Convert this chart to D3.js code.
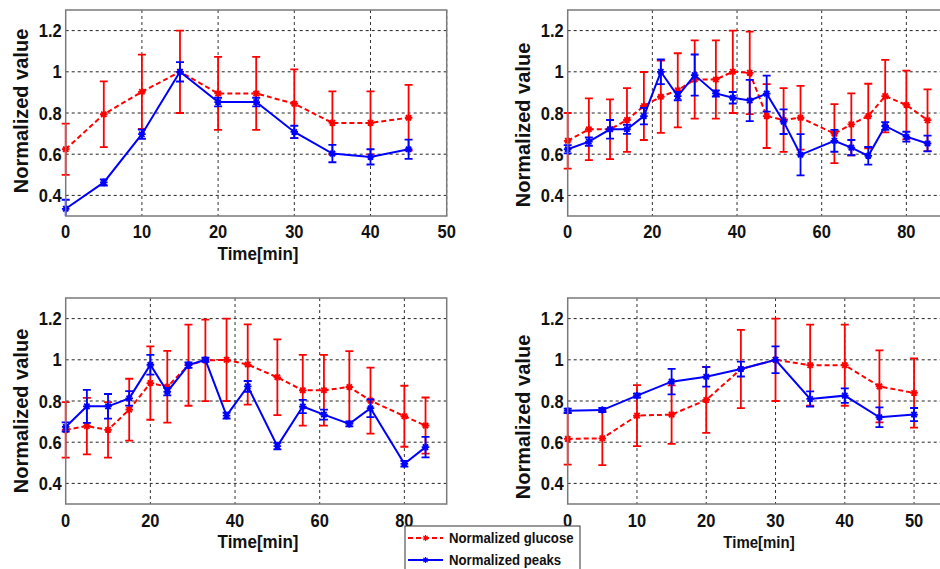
<!DOCTYPE html>
<html>
<head>
<meta charset="utf-8">
<title>Normalized glucose vs peaks</title>
<script src="https://d3js.org/d3.v7.min.js"></script>
<style>
  body { margin: 0; background: #fff; }
  svg text { font-family: "Liberation Sans", Arial, sans-serif; font-weight: bold; fill: #111; }
</style>
</head>
<body>
<script>
// ---- data ----
var time1 = [0, 5, 10, 15, 20, 25, 30, 35, 40, 45];
var glucose1 = [0.624, 0.794, 0.903, 1.0, 0.895, 0.895, 0.845, 0.752, 0.752, 0.777];
var glucoseErr1 = [0.124, 0.16, 0.18, 0.2, 0.177, 0.177, 0.167, 0.153, 0.153, 0.16];
var peaks1 = [0.335, 0.463, 0.697, 1.0, 0.853, 0.853, 0.708, 0.603, 0.587, 0.624];
var peaksErr1 = [0.044, 0.015, 0.022, 0.047, 0.021, 0.021, 0.03, 0.042, 0.037, 0.047];

var time2 = [0, 5, 10, 14, 18, 22, 26, 30, 35, 39, 43, 47, 51, 55, 63, 67, 71, 75, 80, 85];
var glucose2 = [0.665, 0.721, 0.721, 0.766, 0.834, 0.879, 0.91, 0.963, 0.963, 1.0, 0.995, 0.785, 0.766, 0.777, 0.7, 0.745, 0.785, 0.882, 0.839, 0.765];
var glucoseErr2 = [0.135, 0.15, 0.145, 0.155, 0.165, 0.175, 0.18, 0.19, 0.19, 0.2, 0.2, 0.155, 0.155, 0.155, 0.143, 0.15, 0.157, 0.176, 0.167, 0.15];
var peaks2 = [0.624, 0.661, 0.721, 0.721, 0.785, 1.0, 0.882, 0.984, 0.895, 0.874, 0.861, 0.894, 0.758, 0.597, 0.665, 0.632, 0.592, 0.737, 0.685, 0.652];
var peaksErr2 = [0.02, 0.02, 0.045, 0.022, 0.04, 0.06, 0.02, 0.1, 0.015, 0.028, 0.1, 0.087, 0.06, 0.1, 0.053, 0.037, 0.043, 0.019, 0.024, 0.038];

var time3 = [0, 5, 10, 15, 20, 24, 29, 33, 38, 43, 50, 56, 61, 67, 72, 80, 85];
var glucose3 = [0.66, 0.678, 0.66, 0.758, 0.887, 0.869, 0.974, 0.997, 1.0, 0.977, 0.915, 0.852, 0.852, 0.868, 0.802, 0.726, 0.681];
var glucoseErr3 = [0.135, 0.137, 0.135, 0.15, 0.178, 0.174, 0.197, 0.198, 0.2, 0.195, 0.184, 0.172, 0.172, 0.174, 0.16, 0.148, 0.136];
var peaks3 = [0.674, 0.774, 0.774, 0.813, 0.976, 0.845, 0.974, 1.0, 0.729, 0.871, 0.581, 0.773, 0.734, 0.689, 0.765, 0.495, 0.576];
var peaksErr3 = [0.022, 0.08, 0.06, 0.035, 0.048, 0.018, 0.013, 0.01, 0.015, 0.026, 0.016, 0.032, 0.024, 0.012, 0.043, 0.014, 0.05];

var time4 = [0, 5, 10, 15, 20, 25, 30, 35, 40, 45, 50];
var glucose4 = [0.616, 0.619, 0.729, 0.734, 0.805, 0.955, 1.0, 0.974, 0.974, 0.871, 0.839];
var glucoseErr4 = [0.125, 0.13, 0.148, 0.142, 0.16, 0.19, 0.2, 0.197, 0.197, 0.175, 0.168];
var peaks4 = [0.753, 0.756, 0.826, 0.894, 0.918, 0.955, 1.0, 0.81, 0.826, 0.721, 0.734];
var peaksErr4 = [0.01, 0.01, 0.01, 0.062, 0.048, 0.036, 0.065, 0.037, 0.035, 0.048, 0.032];

var yTicks = [0.4, 0.6, 0.8, 1, 1.2];
var xTicks1 = [0, 10, 20, 30, 40, 50];
var xTicks2 = [0, 20, 40, 60, 80];
var xTicks4 = [0, 10, 20, 30, 40, 50];
var seriesNames = ["Normalized glucose", "Normalized peaks"];

// ---- layout ----
var W = 940, H = 569;
var plotW = 381, plotH = 206;
var stretch = 1.12;   // text in the figure is a bit taller than wide

var panels = [
  { t: time1, g: glucose1, ge: glucoseErr1, p: peaks1, pe: peaksErr1, xmax: 50, xt: xTicks1,
    left: 65.7, top: 10, xlab: "Time[min]", xlabSize: 17, ylabShift: -2 },
  { t: time2, g: glucose2, ge: glucoseErr2, p: peaks2, pe: peaksErr2, xmax: 90, xt: xTicks2,
    left: 567.7, top: 10, xlab: null, ylabShift: 12 },
  { t: time3, g: glucose3, ge: glucoseErr3, p: peaks3, pe: peaksErr3, xmax: 90, xt: xTicks2,
    left: 65.7, top: 298, xlab: "Time[min]", xlabSize: 17, ylabShift: 10 },
  { t: time4, g: glucose4, ge: glucoseErr4, p: peaks4, pe: peaksErr4, xmax: 55, xt: xTicks4,
    left: 567.7, top: 298, xlab: "Time[min]", xlabSize: 15, ylabShift: 16 }
];

var svg = d3.select("body").append("svg")
  .attr("width", W)
  .attr("height", H);

function stext(g, x, y, str, size, anchor) {
  return g.append("text")
    .attr("transform", "translate(" + x + "," + y + ") scale(1," + stretch + ")")
    .attr("text-anchor", anchor)
    .style("font-size", size + "px")
    .text(str);
}

function starPath(r) {
  var a = r * 0.7;
  return "M" + (-r) + ",0L" + r + ",0M0," + (-r) + "L0," + r +
    "M" + (-a) + "," + (-a) + "L" + a + "," + a + "M" + (-a) + "," + a + "L" + a + "," + (-a);
}

panels.forEach(function(pn, idx) {
  var g = svg.append("g").attr("transform", "translate(" + pn.left + "," + pn.top + ")");
  var x = d3.scaleLinear().domain([0, pn.xmax]).range([0, plotW]);
  var y = d3.scaleLinear().domain([0.3, 1.3]).range([plotH, 0]);

  g.append("rect").attr("width", plotW).attr("height", plotH).attr("fill", "#fff");

  // grid
  g.selectAll(".hg").data(yTicks).enter().append("line")
    .attr("x1", 0).attr("x2", plotW)
    .attr("y1", function(d) { return y(d); }).attr("y2", function(d) { return y(d); })
    .attr("stroke", "#222").attr("stroke-width", 1).attr("stroke-dasharray", "3,3");
  g.selectAll(".vg").data(pn.xt.filter(function(d) { return d > 0; })).enter().append("line")
    .attr("y1", 0).attr("y2", plotH)
    .attr("x1", function(d) { return x(d); }).attr("x2", function(d) { return x(d); })
    .attr("stroke", "#333").attr("stroke-width", 1).attr("stroke-dasharray", "3,3");

  var clipId = "clip" + idx;
  g.append("clipPath").attr("id", clipId).append("rect")
    .attr("x", -5).attr("y", 0).attr("width", plotW + 10).attr("height", plotH);
  var body = g.append("g").attr("clip-path", "url(#" + clipId + ")");

  function drawSeries(vals, errs, color, dash) {
    var pts = pn.t.map(function(t, i) { return { t: t, v: vals[i], e: errs[i] }; });
    var eb = body.append("g");
    pts.forEach(function(d) {
      var cx = x(d.t), y1 = y(d.v + d.e), y2 = y(d.v - d.e);
      eb.append("line").attr("x1", cx).attr("x2", cx).attr("y1", y1).attr("y2", y2)
        .attr("stroke", color).attr("stroke-width", 1.8);
      [y1, y2].forEach(function(yy) {
        eb.append("line").attr("x1", cx - 4).attr("x2", cx + 4).attr("y1", yy).attr("y2", yy)
          .attr("stroke", color).attr("stroke-width", 1.8);
      });
    });
    body.append("path").datum(pts)
      .attr("fill", "none").attr("stroke", color).attr("stroke-width", 2)
      .attr("stroke-dasharray", dash)
      .attr("d", d3.line().x(function(d) { return x(d.t); }).y(function(d) { return y(d.v); }));
    body.selectAll(null).data(pts).enter().append("path")
      .attr("transform", function(d) { return "translate(" + x(d.t) + "," + y(d.v) + ")"; })
      .attr("d", starPath(3.8))
      .attr("stroke", color).attr("stroke-width", 1.8).attr("fill", "none");
  }
  drawSeries(pn.g, pn.ge, "#ff0000", "5,3");
  drawSeries(pn.p, pn.pe, "#0000ff", null);

  // box
  g.append("rect").attr("width", plotW).attr("height", plotH)
    .attr("fill", "none").attr("stroke", "#7a7a7a").attr("stroke-width", 1.5);

  // tick labels
  yTicks.forEach(function(v) {
    stext(g, -4, y(v) + 6.6, d3.format("~g")(v), 16.5, "end");
  });
  var xBase = idx < 2 ? plotH + 21.5 : plotH + 23;
  pn.xt.forEach(function(v) {
    stext(g, x(v), xBase, String(v), 16.5, "middle");
  });

  // axis labels
  g.append("text")
    .attr("transform", "translate(-38," + (plotH / 2 + pn.ylabShift) + ") rotate(-90)")
    .attr("text-anchor", "middle")
    .style("font-size", "20px")
    .text("Normalized value");
  if (pn.xlab) {
    var cx = idx === 3 ? 759 - pn.left : 258 - pn.left;
    stext(g, cx, plotH + 44, pn.xlab, pn.xlabSize, "middle");
  }
});

// legend
var leg = svg.append("g").attr("transform", "translate(405,526)");
leg.append("rect").attr("width", 175).attr("height", 60)
  .attr("fill", "#fff").attr("stroke", "#333").attr("stroke-width", 1);
var legItems = [
  { name: seriesNames[0], color: "#ff0000", dash: "5,3", y: 12 },
  { name: seriesNames[1], color: "#0000ff", dash: null, y: 34 }
];
legItems.forEach(function(d) {
  leg.append("line").attr("x1", 3).attr("x2", 38).attr("y1", d.y).attr("y2", d.y)
    .attr("stroke", d.color).attr("stroke-width", 1.8).attr("stroke-dasharray", d.dash);
  leg.append("path").attr("transform", "translate(20.5," + d.y + ")")
    .attr("d", starPath(3)).attr("stroke", d.color).attr("stroke-width", 1.2).attr("fill", "none");
  stext(leg, 44, d.y + 5, d.name, 13.2, "start");
});
</script>
</body>
</html>
